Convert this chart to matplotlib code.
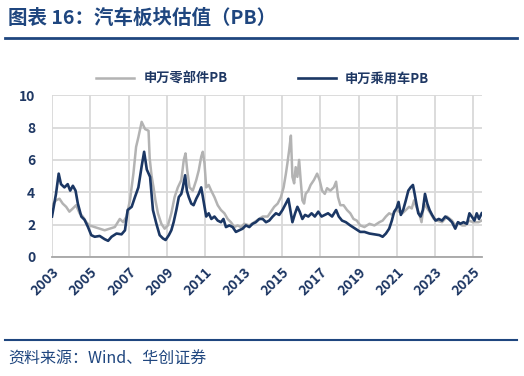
import matplotlib.pyplot as plt
from matplotlib.lines import Line2D

plt.rcParams['font.family'] = ['Noto Sans CJK SC', 'DejaVu Sans']

# 申万零部件PB (gray), decimal year -> PB
parts_t = [2003.00, 2003.21, 2003.39, 2003.56, 2003.74, 2003.91, 2004.09, 2004.26, 2004.44, 2004.61,
           2004.79, 2004.96, 2005.23, 2005.49, 2005.75, 2006.02, 2006.28, 2006.54, 2006.72, 2006.89,
           2007.07, 2007.25, 2007.39, 2007.51, 2007.68, 2007.86, 2008.04, 2008.10, 2008.20, 2008.30,
           2008.40, 2008.53, 2008.71, 2008.88, 2009.05, 2009.23, 2009.40, 2009.57, 2009.75, 2009.88,
           2009.97, 2010.06, 2010.18, 2010.35, 2010.53, 2010.66, 2010.79, 2010.87, 2010.96, 2011.05,
           2011.18, 2011.31, 2011.48, 2011.65, 2011.82, 2012.00, 2012.17, 2012.34, 2012.52, 2012.69,
           2012.86, 2013.04, 2013.30, 2013.56, 2013.82, 2014.00, 2014.26, 2014.43, 2014.60, 2014.78,
           2014.95, 2015.09, 2015.21, 2015.29, 2015.38, 2015.47, 2015.55, 2015.64, 2015.72, 2015.81,
           2015.90, 2015.98, 2016.07, 2016.16, 2016.24, 2016.38, 2016.50, 2016.67, 2016.84, 2016.97,
           2017.10, 2017.24, 2017.36, 2017.53, 2017.71, 2017.83, 2017.93, 2018.05, 2018.22, 2018.40,
           2018.57, 2018.74, 2018.91, 2019.09, 2019.31, 2019.57, 2019.83, 2020.09, 2020.26, 2020.43,
           2020.60, 2020.78, 2020.95, 2021.12, 2021.29, 2021.47, 2021.64, 2021.78, 2021.90, 2022.02,
           2022.16, 2022.29, 2022.41, 2022.59, 2022.76, 2022.93, 2023.10, 2023.36, 2023.62, 2023.88,
           2024.05, 2024.22, 2024.40, 2024.57, 2024.74, 2025.00, 2025.26, 2025.43]
parts_pb = [3.2, 3.5, 3.6, 3.3, 3.1, 2.8, 3.0, 3.2, 2.7, 2.5,
            2.15, 1.95, 1.85, 1.75, 1.65, 1.75, 1.85, 2.35, 2.15, 2.5,
            3.5, 5.15, 6.8, 7.4, 8.35, 7.9, 7.8, 6.1, 5.0, 4.3,
            3.5, 2.7, 2.05, 1.75, 1.95, 2.7, 3.7, 4.3, 4.75, 6.0,
            6.4, 5.35, 4.3, 4.1, 4.75, 5.35, 6.2, 6.5, 5.8, 4.3,
            4.45, 4.1, 3.7, 3.2, 2.9, 2.7, 2.35, 2.15, 1.85, 1.95,
            1.85, 2.05, 1.95, 2.15, 2.35, 2.5, 2.5, 2.8, 3.1, 3.3,
            3.7, 4.3, 5.15, 5.8, 6.6, 7.5, 4.95, 4.55, 5.55, 4.95,
            6.0, 4.75, 3.5, 3.3, 3.9, 4.1, 4.45, 4.75, 5.15, 4.75,
            4.1, 3.9, 4.25, 4.1, 4.3, 4.65, 3.7, 3.2, 3.2, 2.9,
            2.7, 2.35, 2.25, 1.95, 1.85, 2.05, 1.95, 2.15, 2.25, 2.5,
            2.7, 2.6, 2.9, 2.8, 2.7, 2.9, 3.1, 3.0, 3.5, 3.1,
            2.7, 2.15, 3.3, 3.0, 2.7, 2.35, 2.25, 2.15, 2.5, 2.25,
            1.95, 2.15, 1.95, 1.95, 2.25, 2.15, 2.15, 2.25]

# 申万乘用车PB (navy)
cars_t = [2003.00, 2003.21, 2003.35, 2003.47, 2003.65, 2003.82, 2003.95, 2004.09, 2004.23, 2004.35,
          2004.53, 2004.70, 2004.88, 2005.05, 2005.23, 2005.49, 2005.75, 2005.93, 2006.11, 2006.37,
          2006.63, 2006.81, 2006.95, 2007.16, 2007.33, 2007.51, 2007.68, 2007.81, 2007.95, 2008.12,
          2008.27, 2008.45, 2008.62, 2008.79, 2008.93, 2009.10, 2009.23, 2009.35, 2009.49, 2009.62,
          2009.75, 2009.83, 2009.95, 2010.04, 2010.14, 2010.27, 2010.39, 2010.53, 2010.66, 2010.79,
          2010.87, 2010.96, 2011.05, 2011.18, 2011.32, 2011.48, 2011.65, 2011.82, 2011.95, 2012.08,
          2012.26, 2012.43, 2012.60, 2012.78, 2012.95, 2013.12, 2013.30, 2013.47, 2013.64, 2013.82,
          2014.00, 2014.17, 2014.34, 2014.52, 2014.69, 2014.86, 2015.03, 2015.21, 2015.34, 2015.47,
          2015.55, 2015.69, 2015.81, 2015.93, 2016.07, 2016.21, 2016.38, 2016.55, 2016.72, 2016.90,
          2017.07, 2017.24, 2017.41, 2017.62, 2017.83, 2017.97, 2018.14, 2018.34, 2018.57, 2018.83,
          2019.09, 2019.31, 2019.57, 2019.83, 2020.09, 2020.26, 2020.43, 2020.60, 2020.74, 2020.86,
          2020.98, 2021.09, 2021.21, 2021.33, 2021.47, 2021.60, 2021.72, 2021.84, 2021.93, 2022.02,
          2022.12, 2022.24, 2022.36, 2022.47, 2022.59, 2022.71, 2022.84, 2023.02, 2023.19, 2023.36,
          2023.53, 2023.71, 2023.88, 2024.05, 2024.19, 2024.31, 2024.48, 2024.66, 2024.79, 2024.91,
          2025.05, 2025.17, 2025.29, 2025.43]
cars_pb = [2.5, 3.9, 5.15, 4.5, 4.3, 4.5, 4.1, 4.4, 4.1, 3.3,
           2.5, 2.3, 1.85, 1.35, 1.25, 1.3, 1.1, 1.0, 1.25, 1.45,
           1.4, 1.65, 2.9, 3.1, 3.7, 4.3, 5.6, 6.5, 5.4, 4.95,
           2.9, 2.05, 1.35, 1.15, 1.05, 1.35, 1.65, 2.15, 2.9, 3.7,
           3.9, 4.3, 5.05, 4.1, 3.7, 3.3, 3.2, 3.6, 3.9, 4.3,
           3.75, 3.1, 2.5, 2.7, 2.35, 2.5, 2.25, 2.15, 2.35, 1.85,
           1.95, 1.85, 1.55, 1.65, 1.75, 1.95, 1.85, 2.05, 2.15, 2.35,
           2.35, 2.15, 2.25, 2.5, 2.7, 2.6, 2.9, 3.3, 3.6, 2.7,
           2.15, 2.7, 3.1, 2.8, 2.35, 2.6, 2.5, 2.7, 2.5, 2.8,
           2.5, 2.6, 2.7, 2.5, 2.9, 2.5, 2.25, 2.15, 1.95, 1.75,
           1.55, 1.55, 1.45, 1.4, 1.35, 1.25, 1.45, 1.75, 2.25, 2.8,
           3.0, 3.4, 2.6, 2.9, 3.5, 4.1, 4.3, 4.45, 3.9, 3.3,
           2.7, 2.5, 2.9, 3.9, 3.3, 2.9, 2.6, 2.25, 2.35, 2.25,
           2.5, 2.35, 2.15, 1.75, 2.15, 2.05, 2.15, 2.05, 2.7, 2.5,
           2.25, 2.7, 2.35, 2.7]

year_ticks = list(range(2003, 2026, 2))
y_ticks = [0, 2, 4, 6, 8, 10]

navy = '#1B3764'
gray = '#B3B3B3'
text_c = '#1F3864'
title_c = '#1F467F'

fig = plt.figure(figsize=(5.24, 3.76), dpi=100)

# title and rules
fig.text(0.015, 0.952, '图表 16：汽车板块估值（PB）', fontsize=14, fontweight='bold',
         color=title_c, va='center', ha='left')
fig.add_artist(Line2D([0.01, 0.987], [0.898, 0.898], color=title_c, lw=2))
fig.add_artist(Line2D([0.01, 0.987], [0.096, 0.096], color=title_c, lw=1.5))
fig.text(0.015, 0.045, '资料来源：Wind、华创证券', fontsize=11.5, style='italic',
         color=title_c, va='center', ha='left')

ax = fig.add_axes([0.0992, 0.3165, 0.8208, 0.4305])
ax.plot(parts_t, parts_pb, color=gray, lw=1.8, label='申万零部件PB')
ax.plot(cars_t, cars_pb, color=navy, lw=1.9, label='申万乘用车PB')

ax.set_xlim(2003, 2025.45)
ax.set_ylim(0, 10)
ax.set_xticks(year_ticks)
ax.set_yticks(y_ticks)
ax.set_xticklabels([str(y) for y in year_ticks], rotation=45, ha='right',
                   rotation_mode='anchor', fontsize=10, fontweight='bold', color=text_c)
ax.set_yticklabels([str(v) for v in y_ticks], fontsize=10, fontweight='bold', color=text_c)
ax.tick_params(axis='both', length=0, pad=6)
ax.tick_params(axis='y', pad=12)
ax.grid(True, color='#D9D9D9', lw=1.3)
ax.set_axisbelow(True)
for s in ['top', 'right', 'left']:
    ax.spines[s].set_visible(False)
ax.spines['bottom'].set_color('#A6A6A6')
ax.spines['bottom'].set_linewidth(1.3)

leg = ax.legend(loc='lower center', bbox_to_anchor=(0.49, 0.985), ncol=2, frameon=False,
                prop={'size': 9.5, 'weight': 'bold'}, handlelength=2.9, handletextpad=0.7,
                columnspacing=5.3)
for t in leg.get_texts():
    t.set_color(text_c)

fig.savefig('out.png', dpi=100)
